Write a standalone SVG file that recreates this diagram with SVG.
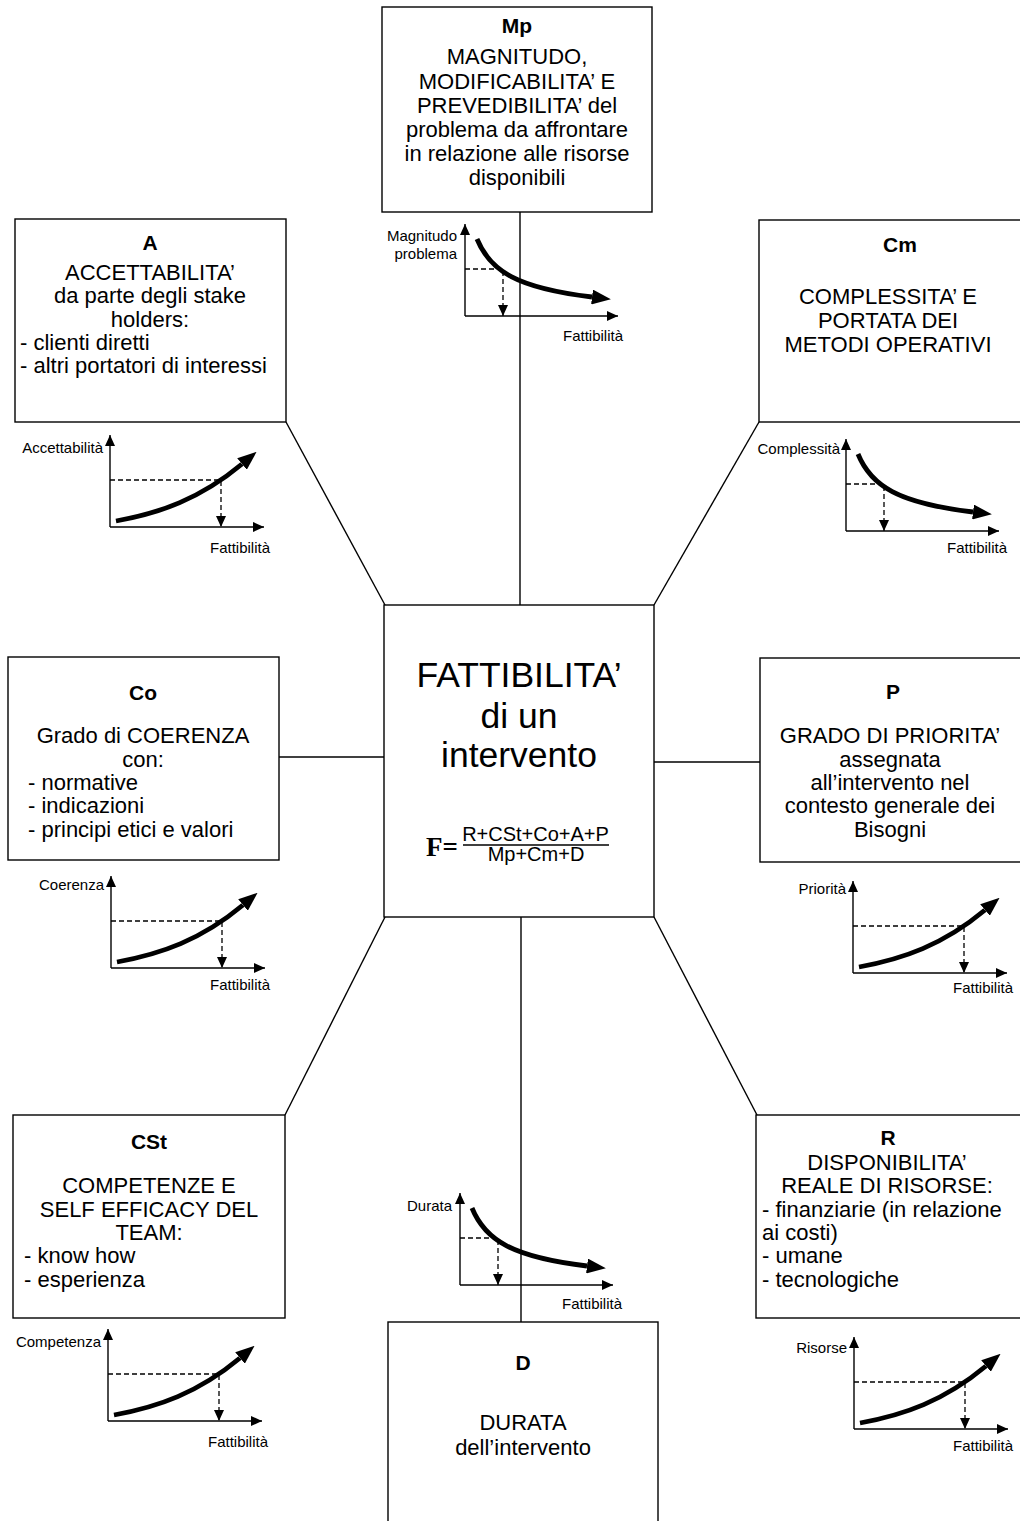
<svg xmlns="http://www.w3.org/2000/svg" xmlns:xlink="http://www.w3.org/1999/xlink" width="1020" height="1521" viewBox="0 0 1020 1521">
<style>
  .box{fill:#fff;stroke:#000;stroke-width:1.4}
  .con{stroke:#000;stroke-width:1.4;fill:none}
  .ax{stroke:#000;stroke-width:1.4;fill:none;marker-end:url(#axArrow)}
  .dash{stroke:#000;stroke-width:1.3;fill:none;stroke-dasharray:5 3;marker-end:url(#axArrow)}
  .curve{stroke:#000;stroke-width:4.8;fill:none;marker-end:url(#curveArrow)}
  text{font-family:"Liberation Sans",Arial,sans-serif;fill:#000}
  .t{font-size:22px}
  .c{text-anchor:middle}
  .r{text-anchor:end}
  .b{font-size:21px;font-weight:bold}
  .big{font-size:35.5px}
  .s{font-size:15px}
  .fr{font-size:20px}
  .F{font-family:"Liberation Serif","Times New Roman",serif;font-weight:bold;font-size:27px}
</style>
<defs>
  <marker id="axArrow" viewBox="0 0 11 10" refX="11" refY="5" markerWidth="11" markerHeight="10" markerUnits="userSpaceOnUse" orient="auto">
    <path d="M0,0 L11,5 L0,10 z" fill="#000"/>
  </marker>
  <marker id="curveArrow" viewBox="0 0 19 15" refX="0" refY="7.5" markerWidth="19" markerHeight="15" markerUnits="userSpaceOnUse" orient="auto">
    <path d="M0,0 L19,7.5 L0,15 z" fill="#000"/>
  </marker>
  <g id="inc">
    <line class="ax" x1="0" y1="0" x2="0" y2="-92"/>
    <line class="ax" x1="0" y1="0" x2="154" y2="0"/>
    <polyline class="dash" points="0,-47 111,-47 111,0"/>
    <path class="curve" d="M6,-6 C50,-14 90,-28 132,-63"/>
  </g>
  <g id="dec">
    <line class="ax" x1="0" y1="0" x2="0" y2="-92"/>
    <line class="ax" x1="0" y1="0" x2="153" y2="0"/>
    <polyline class="dash" points="0,-47 38,-47 38,0"/>
    <path class="curve" d="M12,-77 C25,-45 52,-28 127,-19"/>
  </g>
</defs>
<rect width="1020" height="1521" fill="#fff"/>

<g id="connectors">
  <line class="con" x1="520" y1="212" x2="520" y2="605"/>
  <line class="con" x1="286" y1="422" x2="385" y2="605"/>
  <line class="con" x1="759" y1="422" x2="654" y2="605"/>
  <line class="con" x1="279" y1="757" x2="384" y2="757"/>
  <line class="con" x1="654" y1="762" x2="760" y2="762"/>
  <line class="con" x1="285" y1="1115" x2="385" y2="917"/>
  <line class="con" x1="757" y1="1115" x2="654" y2="917"/>
  <line class="con" x1="521" y1="917" x2="521" y2="1322"/>
</g>

<g id="node-F">
  <rect class="box" x="384" y="605" width="270" height="312"/>
  <text class="big c" x="519" y="687">FATTIBILITA’</text>
  <text class="big c" x="519" y="728">di un</text>
  <text class="big c" x="519" y="767">intervento</text>
  <text class="F" x="426" y="856">F=</text>
  <text class="fr c" x="535.5" y="841">R+CSt+Co+A+P</text>
  <line x1="463" y1="845" x2="609" y2="845" stroke="#000" stroke-width="1.4"/>
  <text class="fr c" x="536" y="861">Mp+Cm+D</text>
</g>

<g id="node-Mp">
  <rect class="box" x="382" y="7" width="270" height="205"/>
  <text class="b c" x="517" y="33">Mp</text>
  <text class="t c" x="517" y="64">MAGNITUDO,</text>
  <text class="t c" x="517" y="89">MODIFICABILITA’ E</text>
  <text class="t c" x="517" y="113">PREVEDIBILITA’ del</text>
  <text class="t c" x="517" y="137">problema da affrontare</text>
  <text class="t c" x="517" y="161">in relazione alle risorse</text>
  <text class="t c" x="517" y="185">disponibili</text>
  <use xlink:href="#dec" href="#dec" transform="translate(465,316)"/>
  <text class="s r" x="457" y="241">Magnitudo</text>
  <text class="s r" x="457" y="259">problema</text>
  <text class="s" x="563" y="341">Fattibilità</text>
</g>

<g id="node-A">
  <rect class="box" x="15" y="219" width="271" height="203"/>
  <text class="b c" x="150" y="250">A</text>
  <text class="t c" x="150" y="280">ACCETTABILITA’</text>
  <text class="t c" x="150" y="303">da parte degli stake</text>
  <text class="t c" x="150" y="327">holders:</text>
  <text class="t" x="20" y="350">- clienti diretti</text>
  <text class="t" x="20" y="373">- altri portatori di interessi</text>
  <use xlink:href="#inc" href="#inc" transform="translate(110,527)"/>
  <text class="s r" x="103" y="453">Accettabilità</text>
  <text class="s" x="210" y="553">Fattibilità</text>
</g>

<g id="node-Cm">
  <rect class="box" x="759" y="220" width="280" height="202"/>
  <text class="b c" x="900" y="252">Cm</text>
  <text class="t c" x="888" y="304">COMPLESSITA’ E</text>
  <text class="t c" x="888" y="328">PORTATA DEI</text>
  <text class="t c" x="888" y="352">METODI OPERATIVI</text>
  <use xlink:href="#dec" href="#dec" transform="translate(846,531)"/>
  <text class="s r" x="840" y="454">Complessità</text>
  <text class="s" x="947" y="553">Fattibilità</text>
</g>

<g id="node-Co">
  <rect class="box" x="8" y="657" width="271" height="203"/>
  <text class="b c" x="143" y="700">Co</text>
  <text class="t c" x="143" y="743">Grado di COERENZA</text>
  <text class="t c" x="143" y="767">con:</text>
  <text class="t" x="28" y="790">- normative</text>
  <text class="t" x="28" y="813">- indicazioni</text>
  <text class="t" x="28" y="837">- principi etici e valori</text>
  <use xlink:href="#inc" href="#inc" transform="translate(111,968)"/>
  <text class="s r" x="104" y="890">Coerenza</text>
  <text class="s" x="210" y="990">Fattibilità</text>
</g>

<g id="node-P">
  <rect class="box" x="760" y="658" width="280" height="204"/>
  <text class="b c" x="893" y="699">P</text>
  <text class="t c" x="890" y="743">GRADO DI PRIORITA’</text>
  <text class="t c" x="890" y="767">assegnata</text>
  <text class="t c" x="890" y="790">all’intervento nel</text>
  <text class="t c" x="890" y="813">contesto generale dei</text>
  <text class="t c" x="890" y="837">Bisogni</text>
  <use xlink:href="#inc" href="#inc" transform="translate(853,973)"/>
  <text class="s r" x="846" y="894">Priorità</text>
  <text class="s" x="953" y="993">Fattibilità</text>
</g>

<g id="node-CSt">
  <rect class="box" x="13" y="1115" width="272" height="203"/>
  <text class="b c" x="149" y="1149">CSt</text>
  <text class="t c" x="149" y="1193">COMPETENZE E</text>
  <text class="t c" x="149" y="1217">SELF EFFICACY DEL</text>
  <text class="t c" x="149" y="1240">TEAM:</text>
  <text class="t" x="24" y="1263">- know how</text>
  <text class="t" x="24" y="1287">- esperienza</text>
  <use xlink:href="#inc" href="#inc" transform="translate(108,1421)"/>
  <text class="s r" x="101" y="1347">Competenza</text>
  <text class="s" x="208" y="1447">Fattibilità</text>
</g>

<g id="node-R">
  <rect class="box" x="756" y="1115" width="284" height="203"/>
  <text class="b c" x="888" y="1145">R</text>
  <text class="t c" x="887" y="1170">DISPONIBILITA’</text>
  <text class="t c" x="887" y="1193">REALE DI RISORSE:</text>
  <text class="t" x="762" y="1217">- finanziarie (in relazione</text>
  <text class="t" x="762" y="1240">ai costi)</text>
  <text class="t" x="762" y="1263">- umane</text>
  <text class="t" x="762" y="1287">- tecnologiche</text>
  <use xlink:href="#inc" href="#inc" transform="translate(854,1429)"/>
  <text class="s r" x="847" y="1353">Risorse</text>
  <text class="s" x="953" y="1451">Fattibilità</text>
</g>

<g id="node-D">
  <rect class="box" x="388" y="1322" width="270" height="230"/>
  <text class="b c" x="523" y="1370">D</text>
  <text class="t c" x="523" y="1430">DURATA</text>
  <text class="t c" x="523" y="1455">dell’intervento</text>
  <use xlink:href="#dec" href="#dec" transform="translate(460,1285)"/>
  <text class="s r" x="452" y="1211">Durata</text>
  <text class="s" x="562" y="1309">Fattibilità</text>
</g>
</svg>
